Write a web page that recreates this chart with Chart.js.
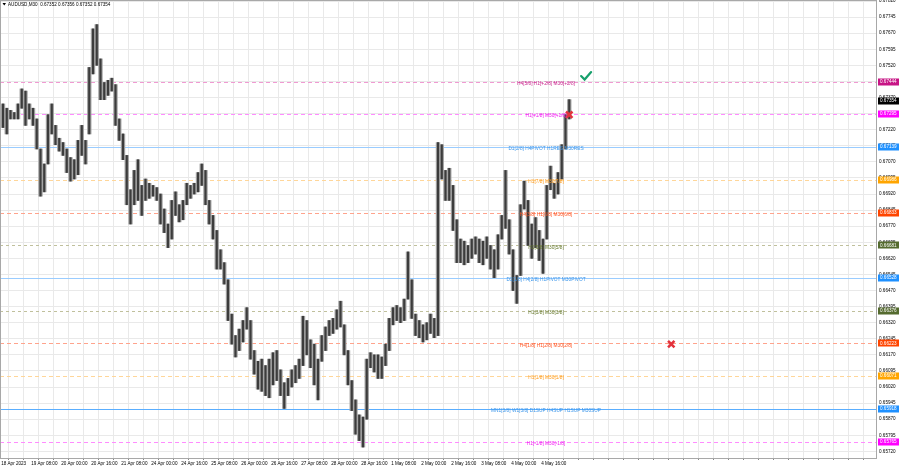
<!DOCTYPE html>
<html>
<head>
<meta charset="utf-8">
<script src="https://cdn.jsdelivr.net/npm/chart.js@4/dist/chart.umd.min.js"></script>
<style>
  html, body { margin: 0; padding: 0; background: #fff; }
  #wrap { width: 900px; height: 468px; }
</style>
</head>
<body>
<div id="wrap"><canvas id="chart" width="900" height="468"></canvas></div>
<script>
// AUDUSD M30, one entry per 2-hour slot (4 bars)
const symbolTitle = 'AUDUSD,M30  0.67352 0.67356 0.67352 0.67354';

const timeLabels = [
    '18 Apr 2023', '19 Apr 08:00', '20 Apr 00:00', '20 Apr 16:00', '21 Apr 08:00',
    '24 Apr 00:00', '24 Apr 16:00', '25 Apr 08:00', '26 Apr 00:00', '26 Apr 16:00',
    '27 Apr 08:00', '28 Apr 00:00', '28 Apr 16:00', '1 May 08:00', '2 May 00:00',
    '2 May 16:00', '3 May 08:00', '4 May 00:00', '4 May 16:00',
];

const priceTicks = [
    0.67820, 0.67745, 0.67670, 0.67595, 0.67520, 0.67445, 0.67370, 0.67295, 0.67220, 0.67145,
    0.67070, 0.66995, 0.66920, 0.66845, 0.66770, 0.66695, 0.66620, 0.66545, 0.66470, 0.66395,
    0.66320, 0.66245, 0.66170, 0.66095, 0.66020, 0.65945, 0.65870, 0.65795, 0.65720,
];

const highs = [
    0.6734, 0.6732, 0.6731, 0.6730, 0.6734, 0.6741, 0.6740, 0.6734, 0.6732, 0.6727, 0.6713, 0.6706,
    0.6729, 0.6734, 0.6724, 0.6718, 0.6716, 0.6713, 0.6709, 0.6708, 0.6717, 0.6724, 0.6717, 0.6751,
    0.6769, 0.6771, 0.6755, 0.6744, 0.6745, 0.6746, 0.6743, 0.6727, 0.6720, 0.6710, 0.6694, 0.6703,
    0.6708, 0.6696, 0.6699, 0.6697, 0.6696, 0.6695, 0.6692, 0.6685, 0.6678, 0.6689, 0.6693, 0.6687,
    0.6689, 0.6697, 0.6696, 0.6697, 0.6702, 0.6706, 0.6703, 0.6689, 0.6682, 0.6675, 0.6666, 0.6660,
    0.6652, 0.6636, 0.6626, 0.6629, 0.6633, 0.6639, 0.6633, 0.6619, 0.6614, 0.6615, 0.6612, 0.6615,
    0.6618, 0.6619, 0.6610, 0.6604, 0.6606, 0.6610, 0.6612, 0.6615, 0.6635, 0.6633, 0.6624, 0.6622,
    0.6615, 0.6626, 0.6630, 0.6633, 0.6634, 0.6638, 0.6642, 0.6631, 0.6619, 0.6605, 0.6596, 0.6589,
    0.6588, 0.6615, 0.6618, 0.6617, 0.6617, 0.6616, 0.6622, 0.6634, 0.6639, 0.6640, 0.6639, 0.6643,
    0.6665, 0.6652, 0.6636, 0.6633, 0.6631, 0.6632, 0.6636, 0.6634, 0.6716, 0.6715, 0.6703, 0.6704,
    0.6696, 0.6680, 0.6671, 0.6670, 0.6668, 0.6671, 0.6672, 0.6671, 0.6670, 0.6672, 0.6668, 0.6666,
    0.6673, 0.6682, 0.6703, 0.6680, 0.6666, 0.6654, 0.6687, 0.6698, 0.6689, 0.6678, 0.6681, 0.6675,
    0.6671, 0.6696, 0.6705, 0.6697, 0.6702, 0.6715, 0.6729, 0.6736,
];

const lows = [
    0.6723, 0.6720, 0.6727, 0.6727, 0.6727, 0.6732, 0.6724, 0.6727, 0.6724, 0.6713, 0.6691, 0.6693,
    0.6706, 0.6720, 0.6715, 0.6712, 0.6710, 0.6702, 0.6698, 0.6699, 0.6701, 0.6710, 0.6706, 0.6720,
    0.6748, 0.6752, 0.6736, 0.6736, 0.6738, 0.6740, 0.6724, 0.6717, 0.6708, 0.6687, 0.6678, 0.6687,
    0.6689, 0.6682, 0.6689, 0.6690, 0.6691, 0.6689, 0.6678, 0.6674, 0.6667, 0.6671, 0.6682, 0.6679,
    0.6680, 0.6687, 0.6690, 0.6692, 0.6693, 0.6696, 0.6687, 0.6678, 0.6671, 0.6657, 0.6657, 0.6650,
    0.6633, 0.6622, 0.6616, 0.6619, 0.6623, 0.6629, 0.6615, 0.6608, 0.6601, 0.6600, 0.6598, 0.6597,
    0.6603, 0.6605, 0.6598, 0.6592, 0.6598, 0.6602, 0.6604, 0.6606, 0.6612, 0.6617, 0.6611, 0.6603,
    0.6596, 0.6614, 0.6619, 0.6626, 0.6627, 0.6629, 0.6630, 0.6617, 0.6603, 0.6591, 0.6580, 0.6577,
    0.6574, 0.6587, 0.6611, 0.6609, 0.6606, 0.6606, 0.6612, 0.6619, 0.6631, 0.6633, 0.6632, 0.6633,
    0.6643, 0.6634, 0.6626, 0.6625, 0.6623, 0.6624, 0.6627, 0.6625, 0.6626, 0.6699, 0.6689, 0.6689,
    0.6675, 0.6660, 0.6660, 0.6659, 0.6660, 0.6662, 0.6664, 0.6660, 0.6659, 0.6662, 0.6657, 0.6653,
    0.6657, 0.6671, 0.6676, 0.6664, 0.6647, 0.6641, 0.6654, 0.6685, 0.6668, 0.6662, 0.6667, 0.6661,
    0.6655, 0.6671, 0.6694, 0.6690, 0.6692, 0.6699, 0.6713, 0.6727,
];

const lastPrice = 0.67354;

// Murrey levels
const levelPrices = [0.67444, 0.67295, 0.67139, 0.66986, 0.66833, 0.66681, 0.66528, 0.66376, 0.66223, 0.66071, 0.65918, 0.65765];
const levelTexts = [
    'H4[5/8] H1[+2/8] M30[+2/8]',
    'H1[+1/8] M30[+1/8]',
    'D1[2/8] H4PIVOT H1RES M30RES',
    'H1[7/8] M30[7/8]',
    'H4[3/8] H1[6/8] M30[6/8]',
    'H1[5/8] M30[5/8]',
    'D1[1/8] H4[2/8] H1PIVOT M30PIVOT',
    'H1[3/8] M30[3/8]',
    'H4[1/8] H1[2/8] M30[2/8]',
    'H1[1/8] M30[1/8]',
    'MN1[3/8] W1[3/8] D1SUP H4SUP H1SUP M30SUP',
    'H1[-1/8] M30[-1/8]',
];
const levelKinds = ['violet', 'magenta', 'blue', 'orange', 'red', 'olive', 'blue', 'olive', 'red', 'orange', 'blueStrong', 'magenta'];

// signal marks (slot position, price)
const crossSlots = [151.5, 178.7];
const crossPrices = [0.6729, 0.6622];
const checkSlots = [156];
const checkPrices = [0.6747];

const LABEL_SLOT = 145.3;
const FONT = 'Liberation Sans, Arial, sans-serif';

const levelStyles = {
    violet: { line: '#f09ad2', text: '#c92a8e', box: '#c71585', dash: [4, 3] },
    magenta: { line: '#ff8cff', text: '#f01cf0', box: '#ff00ff', dash: [4, 3] },
    blue: { line: '#9accff', text: '#3c96ea', box: '#1e90ff', dash: [] },
    blueStrong: { line: '#5aaeff', text: '#3c96ea', box: '#1e90ff', dash: [] },
    orange: { line: '#ffd699', text: '#ff9b1a', box: '#ffa500', dash: [4, 3] },
    red: { line: '#ffa38c', text: '#ff5522', box: '#ff4500', dash: [4, 3] },
    olive: { line: '#c0c09c', text: '#66792c', box: '#556b2f', dash: [3, 3] },
};

const candles = highs.map((h, i) => ({ x: i + 0.5, y: [lows[i], h] }));
const crossPoints = crossSlots.map((s, i) => ({ x: s, y: crossPrices[i] }));

const mtPlugin = {
    id: 'mtOverlay',
    beforeDraw(chart) {
        const ctx = chart.ctx;
        ctx.save();
        ctx.fillStyle = '#fff';
        ctx.fillRect(0, 0, chart.width, chart.height);
        ctx.restore();
    },
    beforeDatasetsDraw(chart) {
        const { ctx, chartArea: a, scales: { y } } = chart;
        ctx.save();
        levelPrices.forEach((p, i) => {
            const st = levelStyles[levelKinds[i]];
            const py = Math.round(y.getPixelForValue(p)) + 0.5;
            ctx.strokeStyle = st.line;
            ctx.lineWidth = 1;
            ctx.setLineDash(st.dash);
            ctx.beginPath();
            ctx.moveTo(a.left, py);
            ctx.lineTo(a.right, py);
            ctx.stroke();
        });
        ctx.restore();
    },
    afterDatasetsDraw(chart) {
        const { ctx, scales: { x, y } } = chart;
        ctx.save();
        ctx.font = '4.8px ' + FONT;
        ctx.textAlign = 'center';
        ctx.textBaseline = 'middle';
        const lx = x.getPixelForValue(LABEL_SLOT);
        levelPrices.forEach((p, i) => {
            const st = levelStyles[levelKinds[i]];
            ctx.fillStyle = st.text;
            ctx.fillText(levelTexts[i], lx, y.getPixelForValue(p) + 2);
        });
        // check marks
        ctx.strokeStyle = '#17a06c';
        ctx.lineWidth = 2.2;
        ctx.lineCap = 'round';
        checkSlots.forEach((s, i) => {
            const cx = x.getPixelForValue(s);
            const cy = y.getPixelForValue(checkPrices[i]);
            ctx.beginPath();
            ctx.moveTo(cx - 5, cy);
            ctx.lineTo(cx - 1.5, cy + 3.5);
            ctx.lineTo(cx + 5, cy - 4);
            ctx.stroke();
        });
        ctx.restore();
    },
    afterDraw(chart) {
        const { ctx, chartArea: a, scales: { y } } = chart;
        ctx.save();
        // frame
        ctx.strokeStyle = '#a8a8a8';
        ctx.lineWidth = 1;
        ctx.strokeRect(0.5, a.top - 0.5, a.right, a.bottom - a.top + 1);

        // price boxes on the axis
        ctx.font = '4.6px ' + FONT;
        ctx.textBaseline = 'middle';
        ctx.textAlign = 'left';
        const boxes = levelPrices.map((p, i) => ({ p, color: levelStyles[levelKinds[i]].box }));
        boxes.push({ p: lastPrice, color: '#000' });
        boxes.forEach((b) => {
            const py = y.getPixelForValue(b.p);
            ctx.fillStyle = b.color;
            ctx.fillRect(a.right + 2, Math.round(py) - 3.5, 21, 7);
            ctx.fillStyle = '#fff';
            ctx.fillText(b.p.toFixed(5), a.right + 4, py);
        });

        // title
        ctx.fillStyle = '#000';
        ctx.beginPath();
        ctx.moveTo(2.5, 3);
        ctx.lineTo(6, 3);
        ctx.lineTo(4.25, 5.5);
        ctx.closePath();
        ctx.fill();
        ctx.fillText(symbolTitle, 8, 4.5);
        ctx.restore();
    },
};

new Chart(document.getElementById('chart'), {
    data: {
        datasets: [
            {
                // wicks
                type: 'bar',
                data: candles,
                backgroundColor: '#a4a4a4',
                borderWidth: 0,
                barThickness: 3.75,
                grouped: false,
                order: 3,
            },
            {
                // bodies
                type: 'bar',
                data: candles,
                backgroundColor: '#3c3c3c',
                borderWidth: 0,
                barThickness: 1.5,
                grouped: false,
                order: 2,
            },
            {
                type: 'scatter',
                data: crossPoints,
                pointStyle: 'crossRot',
                pointRadius: 4.5,
                borderColor: '#e3323c',
                backgroundColor: '#e3323c',
                pointBorderWidth: 2.6,
                clip: false,
                order: 1,
            },
        ],
    },
    options: {
        responsive: false,
        animation: false,
        events: [],
        layout: { autoPadding: false, padding: { left: 0, top: 1, right: 0, bottom: 0 } },
        plugins: {
            legend: { display: false },
            tooltip: { enabled: false },
        },
        scales: {
            x: {
                type: 'linear',
                offset: false,
                min: -0.3,
                max: 233.3,
                afterBuildTicks: (s) => {
                    const t = [];
                    for (let v = 0; v <= 232; v += 4) t.push({ value: v });
                    s.ticks = t;
                },
                afterFit: (s) => {
                    s.height = 10;
                    s.paddingLeft = 0;
                    s.paddingRight = 0;
                },
                ticks: {
                    autoSkip: false,
                    maxRotation: 0,
                    align: 'start',
                    padding: 1,
                    color: '#000',
                    font: { family: FONT, size: 4.6 },
                    callback: (v) => (v % 8 === 0 && v / 8 < timeLabels.length ? timeLabels[v / 8] : ''),
                },
                grid: { color: '#e9e9e9', tickLength: 2, tickColor: '#888' },
                border: { display: false },
            },
            y: {
                position: 'right',
                min: 0.65689,
                max: 0.67820,
                afterBuildTicks: (s) => { s.ticks = priceTicks.map((v) => ({ value: v })); },
                afterFit: (s) => {
                    s.width = 24;
                    s.paddingTop = 0;
                    s.paddingBottom = 0;
                },
                ticks: {
                    padding: 3,
                    crossAlign: 'near',
                    color: '#000',
                    font: { family: FONT, size: 4.6 },
                    callback: (v) => v.toFixed(5),
                },
                grid: { color: '#e9e9e9', drawTicks: false },
                border: { display: false },
            },
        },
    },
    plugins: [mtPlugin],
});
</script>
</body>
</html>
